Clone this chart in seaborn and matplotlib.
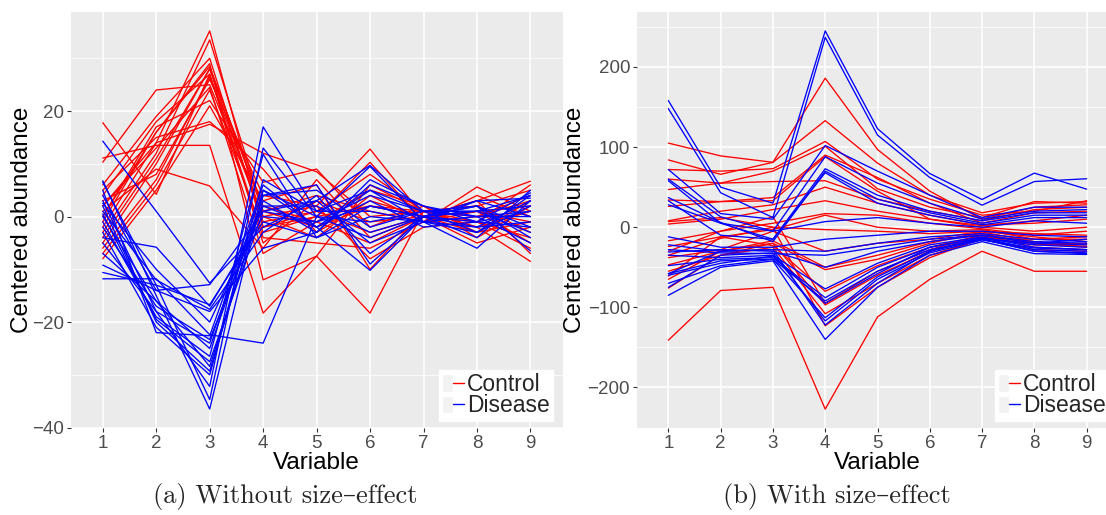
import numpy as np
import pandas as pd
import matplotlib
matplotlib.use("Agg")
import matplotlib.pyplot as plt
import seaborn as sns
from matplotlib.lines import Line2D
from matplotlib.patches import Patch
from matplotlib.legend_handler import HandlerTuple

variables = [1, 2, 3, 4, 5, 6, 7, 8, 9]
groups = ["Control", "Disease"]
colors = {"Control": "#FF0000", "Disease": "#0000FF"}

# Panel (a): without size-effect
control_a = [
    [2, 14, 35.2, -2, 1, -3, 0, 1, 2],
    [-3, 12, 33.5, 1, -2, 2, 1, -1, -4],
    [17.8, 4.2, 27, -5, 3, -1, 0, 3, 6.7],
    [10.3, 24, 25, 0, -4, 4, -1, 5.6, 1],
    [11.1, 13.5, 13.5, -18.3, -7.5, -18.3, 1, -2, -8.5],
    [-1, 16, 29, -12, -7.5, 6, 1, 2, -3],
    [-5, 10, 28, 2, -1, -5, 0, -3, 3],
    [3, 8, 26, 4, 2, 12.8, 0, 1, -1],
    [-7, 6, 24, -3, 0, 10.3, -1, 4, 0],
    [0, 17, 22, 6.5, 9, -2, 2, -4, 2],
    [5, 15, 18, 9, -3, 3, 0, -1, -6],
    [-2, 14, 17.5, 12, 8.5, 0, 1, 2, 5],
    [1, 9, 5.8, -6, 7, -4, 0, -5, -2],
    [-4, 11, 28, -1, 1, 8, 1, 0, 4],
    [4, 18, 27, -4, -5, -6, -1, 1, -5],
    [-8, 5, 21, 3, 6, -10, 1, -2, 1],
    [6, 19, 30, -2, 0, 2, 0, 3, -7],
    [-6, 7, 26.5, 0, 2, -8, -2, -1, 6],
    [2, 13, 24.5, -7, -1, 5, 2, -3, -1],
    [0, 16, 28.5, 1, 4, 1, -1, 0, 3],
]
disease_a = [
    [14.3, 1, -12.6, -2, 3, 9.7, 1, -3, 4],
    [6.8, -15, -36.5, 5, -2, -10.2, 0, 2, -6.5],
    [6.5, -13, -34.7, 13, 0, 9.5, -1, -6, 3],
    [3, -18, -32.2, 17, 1, 5, 1, 0, -5],
    [2, -20, -29.3, 4, 6, -9, 0, 1, 2],
    [0, -16, -28.4, 3, -3, 6, 2, -1, 4.5],
    [-1, -19, -26.5, 11.8, -4, 0, -1, 3, 0],
    [-2, -17, -23.3, 2, 2, -3, 0, -2, 3],
    [-4, -5.8, -17, 0, -1, 4, 1, 1, -3],
    [-9.2, -14, -12.9, 1, 3, -5, -1, 0, 1],
    [-10.6, -13, -16.7, -1, -4, 2, 0, -4, 5],
    [-11.8, -11.8, -22.4, -24, 0, -1, 1, 2, -2],
    [5, -22, -22.6, 6, -2, 3, -2, -1, 1],
    [1, -12, -17.6, -3, 4, -7, 0, 2, -4],
    [-3, -21, -30, 7, 1, 1, -1, -3, 2],
    [4, -14, -18, -6, -3, 7, 2, 0, 0],
    [-5, -18, -24, 5, 0, -4, 0, 3, 3.5],
    [2.5, -10, -20, 2, -2, 5, -1, -2, -1],
    [-7, -16, -25, 4, 5, -2, 1, 1, 4],
    [0.5, -19.5, -27.5, 1, -1, 2, 0, -1, -2],
]

# Panel (b): with size-effect
control_b = [
    [-141, -79, -75, -227, -112, -65, -30, -55, -55],
    [105, 89, 81, 186, 97, 45, 10, 25, 28],
    [84, 66, 81, 133, 80, 40, 18, 30, 32],
    [72, 70, 73, 107, 60, 35, 15, 20, 33],
    [60, 55, 70, 101, 48, 25, 12, 32, 30],
    [47, 55, 57, 58, 35, 20, 8, 22, 25],
    [34, 32, 37, 90, 62, 30, 5, 18, 20],
    [26, 32, 33, 88, 45, 10, 2, 8, 15],
    [8, 20, 28, 50, 30, 15, 3, 5, 10],
    [4, 10, 22, 33, 20, 10, 0, -5, 0],
    [-17, -5, 5, 17, 15, 5, -2, -10, -5],
    [-24, -12, -3, 15, 0, -5, -3, -15, -15],
    [-35, -14, 0, -3, -5, -8, -5, -12, -18],
    [-38, -28, -5, -30, -20, -15, -5, -8, -10],
    [-47, -30, -17, -50, -35, -18, -8, -20, -25],
    [-55, -35, -20, -53, -40, -20, -6, -18, -22],
    [-61, -12, -23, -80, -48, -25, -10, -25, -28],
    [-65, -30, -20, -97, -60, -30, -12, -22, -20],
    [-76, -35, -25, -108, -70, -35, -15, -28, -30],
    [7, 12, 0, -123, -75, -38, -14, -15, -12],
    [-30, -5, 13, -95, -55, -28, -10, -20, -24],
]
disease_b = [
    [158, 50, 30, 245, 123, 67, 34.6, 67.5, 47.5],
    [148, 43, 12, 237, 115, 62, 27.5, 57, 60.5],
    [72, 17, 10, 102, 70, 40, 12, 25, 25],
    [60, 13, -5, 88, 55, 30, 10, 20, 22],
    [58, 5, -15, 73, 40, 20, 8, 18, 18],
    [37, 6, -18, 70, 35, 18, 5, 15, 15],
    [33, -10, -15, 68, 30, 15, 3, 12, 12],
    [28, 5, -5, 7, 12, 5, 0, 8, 5],
    [-12, -25, -25, -15, -10, -5, -5, -10, -12],
    [-22, -30, -28, -30, -20, -12, -8, -15, -18],
    [-28, -32, -33, -35, -25, -15, -10, -18, -20],
    [-31, -28, -30, -50, -30, -18, -10, -20, -22],
    [-35, -38, -35, -77, -45, -22, -12, -25, -28],
    [-48, -40, -38, -88, -50, -25, -13, -28, -30],
    [-58, -42, -40, -92, -55, -28, -15, -30, -33],
    [-60, -45, -36, -95, -58, -25, -14, -22, -25],
    [-70, -48, -40, -113, -62, -30, -15, -30, -32],
    [-75, -35, -32, -117, -65, -32, -16, -26, -28],
    [-85, -50, -42, -140, -75, -35, -18, -33, -34],
    [-58, -30, -28, -122, -70, -30, -14, -20, -15],
]

yticks_a = [-40, -20, 0, 20]
yminor_a = [-30, -10, 10, 30]
yticks_b = [-200, -100, 0, 100, 200]
yminor_b = [-250, -150, -50, 50, 150, 250]
captions = ["(a) Without size\u2013effect", "(b) With size\u2013effect"]
xlabel = "Variable"
ylabel = "Centered abundance"


def to_long(ctrl, dis):
    rows = []
    uid = 0
    for grp, lines in (("Control", ctrl), ("Disease", dis)):
        for line in lines:
            for v, val in zip(variables, line):
                rows.append({"id": uid, "Group": grp, "Variable": v, "value": val})
            uid += 1
    return pd.DataFrame(rows)


sns.set_theme(style="darkgrid")
plt.rcParams["font.family"] = ["Liberation Sans", "DejaVu Sans"]

W, H = 1106, 515
fig = plt.figure(figsize=(W / 100, H / 100), dpi=100)
bottom = 1 - 428 / H
height = (428 - 12) / H
ax1 = fig.add_axes([70.7 / W, bottom, (562.5 - 70.7) / W, height])
ax2 = fig.add_axes([637 / W, bottom, (1118 - 637) / W, height])

panels = [
    (ax1, control_a, disease_a, yticks_a, yminor_a, -0.076),
    (ax2, control_b, disease_b, yticks_b, yminor_b, -0.105),
]

for ax, ctrl, dis, yt, ym, ylx in panels:
    df = to_long(ctrl, dis)
    sns.lineplot(data=df, x="Variable", y="value", hue="Group", units="id",
                 estimator=None, palette=colors, lw=0.95, ax=ax, legend=False,
                 sort=False)
    ax.set_facecolor("#EBEBEB")
    vmin, vmax = df["value"].min(), df["value"].max()
    pad = 0.05 * (vmax - vmin)
    ax.set_ylim(vmin - pad, vmax + pad)
    ax.set_xlim(0.4, 9.6)
    ax.set_xticks(variables)
    ax.set_yticks(yt)
    ax.set_yticks(ym, minor=True)
    ax.grid(which="major", color="white", lw=1.1)
    ax.grid(which="minor", axis="y", color="white", lw=0.55)
    ax.grid(which="minor", axis="x", visible=False)
    ax.set_axisbelow(True)
    for s in ax.spines.values():
        s.set_visible(False)
    ax.tick_params(which="major", length=3, width=0.8, color="#333333",
                   labelcolor="#4D4D4D", labelsize=13.5, pad=2,
                   left=True, bottom=True)
    ax.tick_params(which="minor", length=0)
    ax.set_xlabel(xlabel, fontsize=17.5, color="black", labelpad=0)
    ax.set_ylabel(ylabel, fontsize=17.5, color="black")
    ax.yaxis.set_label_coords(ylx, 0.5)

    handles = [
        (Patch(facecolor="#F2F2F2", edgecolor="white"), Line2D([], [], color=colors[g], lw=1.0))
        for g in groups
    ]
    ax.legend(handles, groups, loc="lower right",
              bbox_to_anchor=(0.981, 0.0175),
              handler_map={tuple: HandlerTuple(ndivide=None, pad=0)},
              fontsize=16.5, frameon=True, facecolor="white", edgecolor="white",
              framealpha=1, fancybox=False, borderpad=0.15,
              labelspacing=-0.08, handlelength=0.95, handleheight=0.8,
              handletextpad=0.12, borderaxespad=0)

fig.text(285 / W, 1 - 497 / H, captions[0], ha="center", va="center",
         fontsize=19, family=["cmr10", "DejaVu Serif"])
fig.text(837 / W, 1 - 497 / H, captions[1], ha="center", va="center",
         fontsize=19, family=["cmr10", "DejaVu Serif"])

fig.savefig("out.png", dpi=100)
